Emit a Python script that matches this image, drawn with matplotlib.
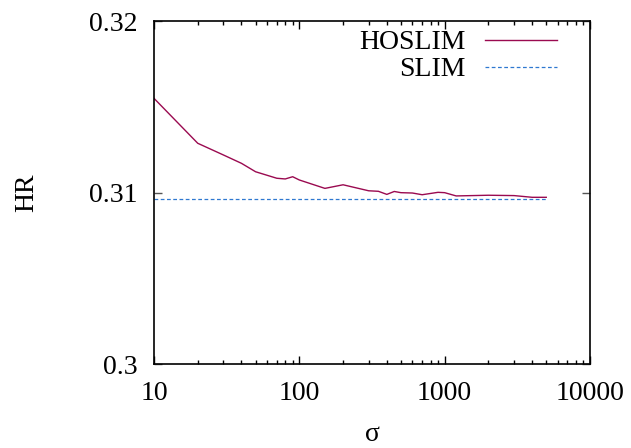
import matplotlib
matplotlib.use("Agg")
import matplotlib.pyplot as plt
from matplotlib.ticker import LogLocator, FixedLocator, NullFormatter

plt.rcParams['font.family'] = ['Liberation Serif', 'DejaVu Serif']

sigma = [10, 20, 30, 40, 50, 70, 80, 90, 100, 150, 200, 300, 350, 400, 450, 500,
         600, 700, 900, 1000, 1200, 2000, 3000, 4000, 5000]
hoslim = [0.31549, 0.31287, 0.31219, 0.31170, 0.31121, 0.31083, 0.31079, 0.31092,
          0.31073, 0.31024, 0.31045, 0.31010, 0.31007, 0.30989, 0.31006, 0.30999,
          0.30997, 0.30987, 0.31001, 0.30999, 0.30980, 0.30984, 0.30982, 0.30972,
          0.30972]
slim_x = [10, 5000]
slim_y = [0.3096, 0.3096]

yticks = [0.30, 0.31, 0.32]
ytick_labels = ['0.3', '0.31', '0.32']
xticks = [10, 100, 1000, 10000]
xtick_labels = ['10', '100', '1000', '10000']

fs = 20
fig = plt.figure(figsize=(6.31, 4.48), dpi=100)
ax = fig.add_axes([154/631, 1-364/448, (590-154)/631, (364-21)/448])

ax.plot(sigma, hoslim, color='#9a0a50', lw=1.0, label='HOSLIM')
ax.plot(slim_x, slim_y, color='#2f78d0', lw=0.9, dashes=(3, 2), label='SLIM')

ax.set_xscale('log')
ax.set_xlim(10, 10000)
ax.set_ylim(0.30, 0.32)
ax.xaxis.set_major_locator(FixedLocator(xticks))
ax.set_xticklabels(xtick_labels)
ax.xaxis.set_minor_locator(LogLocator(base=10, subs=range(2, 10)))
ax.xaxis.set_minor_formatter(NullFormatter())
ax.set_yticks(yticks)
ax.set_yticklabels(ytick_labels)
ax.yaxis.set_minor_locator(FixedLocator([]))

ax.tick_params(axis='both', which='both', direction='in', top=True, right=True,
               labelsize=fs, width=1.0)
ax.tick_params(axis='x', which='major', length=6, pad=12)
ax.tick_params(axis='x', which='minor', length=3)
ax.tick_params(axis='y', which='major', length=6, pad=12, color='#555555')
for sp in ax.spines.values():
    sp.set_linewidth(1.2)

ax.set_xlabel('σ', fontsize=fs, labelpad=12)
ax.set_ylabel('HR', fontsize=fs, labelpad=36)

leg = ax.legend(loc='upper right', bbox_to_anchor=(1 - 33/436, 1 - 9/343),
                frameon=False, markerfirst=False, fontsize=fs,
                handlelength=2.6, handletextpad=0.7, labelspacing=0.05,
                borderaxespad=0.0, borderpad=0.0)

fig.savefig('out.png', dpi=100)
